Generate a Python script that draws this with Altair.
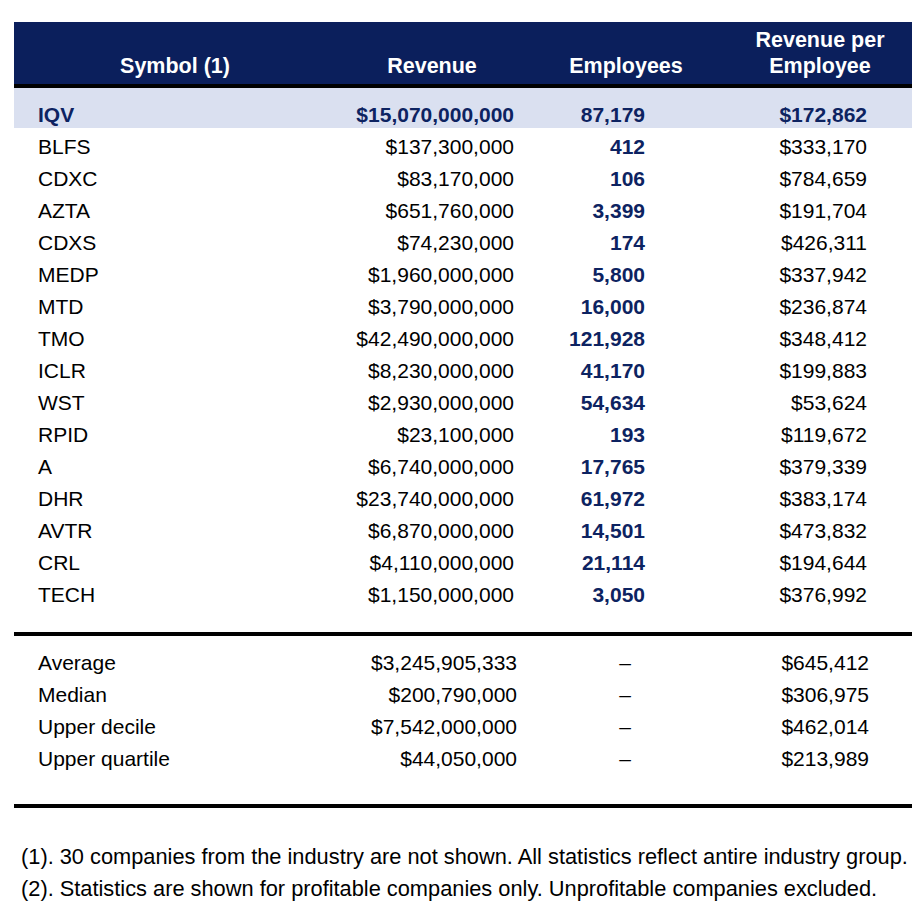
import altair as alt
import pandas as pd

# ---------------- data ----------------
symbols = ["IQV", "BLFS", "CDXC", "AZTA", "CDXS", "MEDP", "MTD", "TMO", "ICLR",
           "WST", "RPID", "A", "DHR", "AVTR", "CRL", "TECH"]
revenue = [15070000000, 137300000, 83170000, 651760000, 74230000, 1960000000,
           3790000000, 42490000000, 8230000000, 2930000000, 23100000, 6740000000,
           23740000000, 6870000000, 4110000000, 1150000000]
employees = [87179, 412, 106, 3399, 174, 5800, 16000, 121928, 41170, 54634, 193,
             17765, 61972, 14501, 21114, 3050]
rev_per_emp = [172862, 333170, 784659, 191704, 426311, 337942, 236874, 348412,
               199883, 53624, 119672, 379339, 383174, 473832, 194644, 376992]
highlight_symbol = "IQV"

stat_labels = ["Average", "Median", "Upper decile", "Upper quartile"]
stat_revenue = [3245905333, 200790000, 7542000000, 44050000]
stat_employees = ["–", "–", "–", "–"]
stat_rpe = [645412, 306975, 462014, 213989]

header_cols = ["sym", "rev", "emp", "rpe"]
header_line1 = ["", "", "", "Revenue per"]
header_line2 = ["Symbol (1)", "Revenue", "Employees", "Employee"]

footnotes = [
    "(1). 30 companies from the industry are not shown. All statistics reflect antire industry group.",
    "(2). Statistics are shown for profitable companies only. Unprofitable companies excluded.",
]

# ---------------- layout (row units) ----------------
W, H = 904, 896
FONT = "Liberation Sans"
NAVY = "#0b1f5c"
NAVY_TXT = "#0d2361"
HILITE = "#dae0f0"
HEADER_X = {"sym": 167, "rev": 424, "emp": 618, "rpe": 812}

yscale = alt.Scale(domain=[-3.5625, 24.4375], reverse=True, nice=False, zero=False)

body = pd.DataFrame({
    "row": list(range(len(symbols))),
    "symbol": symbols,
    "revenue": revenue,
    "employees": employees,
    "rpe": rev_per_emp,
})
body["hl"] = body["symbol"] == highlight_symbol

stats = pd.DataFrame({
    "row": [17.125 + i for i in range(len(stat_labels))],
    "label": stat_labels,
    "revenue": stat_revenue,
    "emp": stat_employees,
    "rpe": stat_rpe,
})

hdr = pd.DataFrame({
    "col": header_cols * 2,
    "text": header_line1 + header_line2,
    "row": [-2.34375] * 4 + [-1.53125] * 4,
})
hdr = hdr[hdr["text"] != ""]

foot = pd.DataFrame({"row": [23.1875, 24.1875], "text": footnotes})

bands = pd.DataFrame({
    "y1": [-3.125, -1.0625],
    "y2": [-1.1875, 0.1875],
    "c": [NAVY, HILITE],
})
rules = pd.DataFrame({"y": [-1.125, 16.0, 21.375]})

Y = lambda f: alt.Y(f, type="quantitative", scale=yscale, axis=None)

band_layer = alt.Chart(bands).mark_rect().encode(
    x=alt.value(6), x2=alt.value(W),
    y=Y("y1"), y2="y2",
    color=alt.Color("c:N", scale=None),
)
rule_layer = alt.Chart(rules).mark_rule(color="black", strokeWidth=4).encode(
    x=alt.value(6), x2=alt.value(W), y=Y("y"),
)

hdr_layers = [
    alt.Chart(hdr).mark_text(
        font=FONT, fontSize=21.5, fontWeight="bold", color="white",
        align="center", baseline="alphabetic",
    ).encode(
        x=alt.value(HEADER_X[c]),
        y=Y("row"),
        text="text:N",
    ).transform_filter(alt.datum.col == c)
    for c in header_cols
]

def body_text(field, xpos, align, fmt=None, bold=False, color="black", size=21, flt=None):
    enc = dict(x=alt.value(xpos), y=Y("row"))
    if fmt:
        enc["text"] = alt.Text(field, type="quantitative", format=fmt)
    else:
        enc["text"] = alt.Text(field, type="nominal")
    ch = alt.Chart(body).mark_text(
        font=FONT, fontSize=size, fontWeight="bold" if bold else "normal",
        color=color, align=align, baseline="alphabetic",
    ).encode(**enc)
    if flt is not None:
        ch = ch.transform_filter(flt)
    return ch

is_hl = alt.datum.hl == True
not_hl = alt.datum.hl == False

body_layers = [
    body_text("symbol", 30, "left", flt=not_hl),
    body_text("revenue", 506, "right", fmt="$,.0f", flt=not_hl),
    body_text("employees", 637, "right", fmt=",d", bold=True, color=NAVY_TXT, flt=not_hl),
    body_text("rpe", 859, "right", fmt="$,.0f", flt=not_hl),
    body_text("symbol", 30, "left", bold=True, color=NAVY_TXT, flt=is_hl),
    body_text("revenue", 506, "right", fmt="$,.0f", bold=True, color=NAVY_TXT, flt=is_hl),
    body_text("employees", 637, "right", fmt=",d", bold=True, color=NAVY_TXT, flt=is_hl),
    body_text("rpe", 859, "right", fmt="$,.0f", bold=True, color=NAVY_TXT, flt=is_hl),
]

def stat_text(field, xpos, align, fmt=None):
    if fmt:
        t = alt.Text(field, type="quantitative", format=fmt)
    else:
        t = alt.Text(field, type="nominal")
    return alt.Chart(stats).mark_text(
        font=FONT, fontSize=21, color="black", align=align, baseline="alphabetic",
    ).encode(x=alt.value(xpos), y=Y("row"), text=t)

stat_layers = [
    stat_text("label", 30, "left"),
    stat_text("revenue", 509, "right", fmt="$,.0f"),
    stat_text("emp", 617, "center"),
    stat_text("rpe", 861, "right", fmt="$,.0f"),
]

foot_layer = alt.Chart(foot).mark_text(
    font=FONT, fontSize=21.8, color="black", align="left", baseline="alphabetic",
).encode(x=alt.value(13), y=Y("row"), text="text:N")

chart = alt.layer(
    band_layer, rule_layer, *hdr_layers, *body_layers, *stat_layers, foot_layer
).properties(
    width=W, height=H,
    autosize=alt.AutoSizeParams(type="none"),
    padding=0,
).configure_view(stroke=None)

chart.save("out.html", embed_options={"renderer": "svg", "actions": False})
